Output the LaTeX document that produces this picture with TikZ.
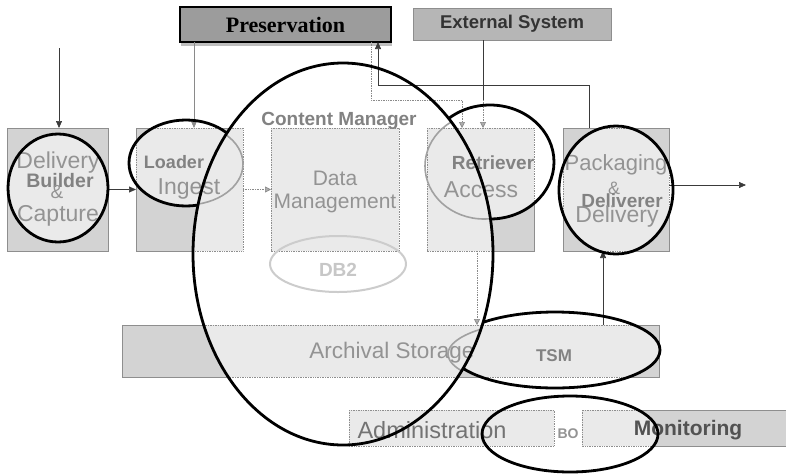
\documentclass[tikz,border=0pt]{standalone}
\usepackage{fontspec}
\setmainfont{Liberation Sans}
\newfontfamily\presfont{Liberation Serif}
\usetikzlibrary{arrows.meta}

\definecolor{boxdark}{HTML}{D3D3D3}
\definecolor{boxlight}{HTML}{EAEAEA}
\definecolor{boxedge}{HTML}{8E8E8E}
\definecolor{txtgray}{HTML}{939393}
\definecolor{txtmid}{HTML}{828282}
\definecolor{lineDark}{HTML}{3A3A3A}
\definecolor{lineGray}{HTML}{8A8A8A}
\definecolor{presfill}{HTML}{9C9C9C}
\definecolor{extfill}{HTML}{B6B6B6}

\begin{document}
\begin{tikzpicture}[x=1pt,y=-1pt,
  darkbox/.style={rectangle, draw=boxedge, fill=boxdark, line width=0.8pt, inner sep=0pt, outer sep=0pt},
  lightbox/.style={rectangle, draw=boxedge, fill=boxlight, densely dotted, line width=0.7pt, inner sep=0pt, outer sep=0pt},
  lightrect/.style={fill=boxlight, draw=boxedge, densely dotted, line width=0.7pt},
  lbl/.style={inner sep=0pt, text=txtgray, font=\fontsize{23}{24}\selectfont},
  lblb/.style={inner sep=0pt, text=txtmid, font=\bfseries\fontsize{19}{20}\selectfont},
  ring/.style={draw=black, line width=2.8pt},
  ghost/.style={draw=lineGray!80, line width=1.6pt},
  conn/.style={draw=lineDark, line width=0.7pt},
  connlight/.style={draw=lineGray, line width=0.7pt},
  dotconn/.style={draw=lineGray, line width=0.7pt, densely dotted},
  tip/.style={-{Triangle[length=7pt,width=6pt]}},
  graytip/.style={-{Triangle[length=6pt,width=6pt,fill=lineGray!70]}}]

\useasboundingbox (0,0) rectangle (786,474);
\clip (0,0) rectangle (786,474);

% ---- boxes ----
\node[darkbox, minimum width=101pt, minimum height=123pt] (deliv) at (57.5,189.5) {};
\node[darkbox, minimum width=107pt, minimum height=123pt] (loader) at (189.5,189.5) {};
\node[lightbox, minimum width=128pt, minimum height=123pt] (dm) at (335,189.5) {};
\node[darkbox, minimum width=107pt, minimum height=123pt] (retr) at (480.5,189.5) {};
\node[darkbox, minimum width=106pt, minimum height=123pt] (pack) at (616,189.5) {};
\node[darkbox, minimum width=537pt, minimum height=52pt] (arch) at (390.5,351) {};
\node[darkbox, minimum width=208pt, minimum height=36pt] (monit) at (686,428) {};
\node[lightbox, minimum width=205pt, minimum height=36pt] (admin) at (451.5,428) {};

% top systems
\fill[black!25] ([xshift=1pt,yshift=-3.5pt]180,42) rectangle (392,42);
\node[rectangle, draw=black, fill=presfill, line width=1.6pt, inner sep=0pt, outer sep=0pt,
      minimum width=211pt, minimum height=35pt] (pres) at (285.5,24.5) {};
\node[rectangle, draw=boxedge, fill=extfill, line width=1pt, inner sep=0pt, outer sep=0pt,
      minimum width=198pt, minimum height=32pt] (ext) at (512,24) {};

% ---- lighter fill where the small ovals cover the boxes ----
\begin{scope}
  \clip (58,188) ellipse[x radius=50,y radius=54]
        (186,163) ellipse[x radius=57,y radius=43]
        (490,162) ellipse[x radius=64,y radius=57]
        (616,190) ellipse[x radius=57,y radius=64]
        (555,350) ellipse[x radius=105,y radius=38]
        (570,434) ellipse[x radius=88,y radius=38];
  \foreach \b in {deliv,loader,retr,pack,arch,monit} {
    \draw[white, line width=1.8pt] (\b.north west) rectangle (\b.south east);
    \path[lightrect] (\b.north west) rectangle (\b.south east);
  }
\end{scope}

% ---- inside the large oval ----
\begin{scope}
  \clip (343,254) ellipse[x radius=150,y radius=191];
  \fill[white] (343,254) ellipse[x radius=150,y radius=191];
  \foreach \b in {loader,dm,retr,arch,admin} {
    \path[lightrect] (\b.north west) rectangle (\b.south east);
  }
  \draw[ghost] (186,164) ellipse[x radius=57,y radius=41];
  \draw[ghost] (484,166) ellipse[x radius=59,y radius=53];
  \draw[ghost] (552,354) ellipse[x radius=104,y radius=34];
  \draw[draw=black!20, line width=2pt] (338,264) ellipse[x radius=68,y radius=28];
\end{scope}

% ---- connectors ----
\coordinate (dsrc) at (59,48);
\coordinate (out) at (746,185);
\draw[conn, tip] (dsrc) -- (dsrc |- deliv.north);
\draw[conn, tip] (deliv.east) -- (loader.west);
\draw[connlight, tip] (194,0 |- pres.south) -- (194,0 |- loader.north);
\draw[dotconn, graytip] (loader.east) -- (dm.west);
\draw[dotconn, graytip] (371,0 |- pres.south) -- (371,100) -- (462,100) -- (462,0 |- retr.north);
\draw[conn, tip] (589,0 |- pack.north) -- (589,85) -- (378,85) -- (378,0 |- pres.south);
\coordinate (extmid) at (483,100);
\draw[conn] (extmid |- ext.south) -- (extmid);
\draw[dotconn, graytip] (extmid) -- (extmid |- retr.north);
\draw[dotconn, graytip] (477,0 |- retr.south) -- (477,0 |- arch.north);
\draw[conn, tip] (603,0 |- arch.north) -- (603,0 |- pack.south);
\draw[conn, tip] (pack.east |- out) -- (out);

% ---- labels ----
\node[inner sep=0pt, font=\presfont\bfseries\fontsize{22}{24}\selectfont] (tPres) at (pres) {Preservation};
\node[inner sep=0pt, text=black!80, font=\bfseries\fontsize{18.5}{20}\selectfont] (tExt) at (ext) {External System};

\node[lbl] (tDelivA) at (58,163) {Delivery};
\node[lblb, font=\bfseries\fontsize{19.5}{20}\selectfont] (tBuild) at (60,181) {Builder};
\node[lbl, font=\fontsize{19}{20}\selectfont] (tAmpA) at (57,192) {\&};
\node[lbl] (tCapt) at (58,216) {Capture};

\node[lblb, font=\bfseries\fontsize{18}{20}\selectfont] (tLoad) at (174,162) {Loader};
\node[lbl] (tIng) at (189,189) {Ingest};

\node[lblb] (tCM) at (339,121) {Content Manager};
\node[lbl, font=\fontsize{21}{22}\selectfont] (tData) at (335,178) {Data};
\node[lbl, font=\fontsize{21}{22}\selectfont] (tMgmt) at (335,203) {Management};
\node[lblb, text=black!22] (tDB) at (338,270) {DB2};

\node[lblb] (tRetr) at (493,163) {Retriever};
\node[lbl] (tAcc) at (481,190) {Access};

\node[lbl, font=\fontsize{22}{23}\selectfont] (tPack) at (616,165) {Packaging};
\node[lbl, font=\fontsize{18}{20}\selectfont] (tAmpB) at (614,188) {\&};
\node[lblb] (tDelr) at (622,201) {Deliverer};
\node[lbl] (tDelivB) at (617,217) {Delivery};

\node[lbl, font=\fontsize{22.5}{24}\selectfont] (tArch) at (392,353) {Archival Storage};
\node[lblb, font=\bfseries\fontsize{17}{18}\selectfont] (tTSM) at (554,356) {TSM};

\node[lbl, text=black!55, font=\fontsize{23.5}{24}\selectfont] (tAdm) at (432,430) {Administration};
\node[lblb, text=txtgray, font=\bfseries\fontsize{14}{16}\selectfont] (tBO) at (568,434) {BO};
\node[lblb, text=black!68, font=\bfseries\fontsize{21}{22}\selectfont] (tMon) at (688,430) {Monitoring};

% ---- black ovals, hidden where the large oval lies over them ----
\begin{scope}[even odd rule]
  \clip (0,0) rectangle (786,474) (343,254) ellipse[x radius=150,y radius=191];
  \draw[ring] (58,188) ellipse[x radius=50,y radius=54];
  \draw[ring] (186,163) ellipse[x radius=57,y radius=43];
  \draw[ring] (490,162) ellipse[x radius=64,y radius=57];
  \draw[ring] (616,190) ellipse[x radius=57,y radius=64];
  \draw[ring] (555,350) ellipse[x radius=105,y radius=38];
  \draw[ring] (570,434) ellipse[x radius=88,y radius=38];
\end{scope}

% ---- the large oval ----
\draw[ring] (343,254) ellipse[x radius=150,y radius=191];

\end{tikzpicture}
\end{document}
